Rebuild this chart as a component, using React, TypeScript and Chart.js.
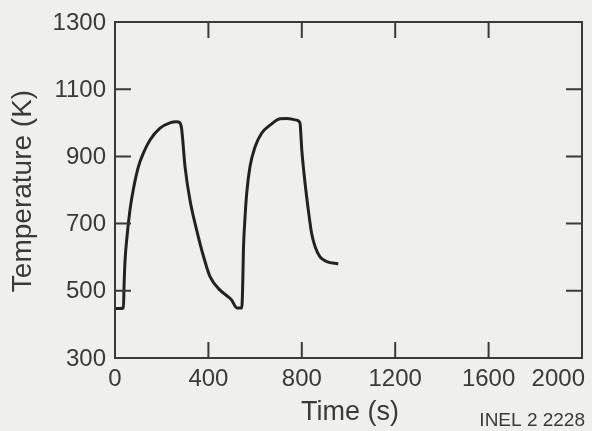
import React, { useEffect, useRef } from "react";
import { Chart, registerables } from "chart.js";

Chart.register(...registerables);

const timeSeconds = [0, 20, 36, 39, 43, 50, 64, 78, 100, 121, 150, 193, 235, 264, 278, 285, 300, 321, 350, 378, 407, 450, 485, 500, 508, 521, 543, 547, 550, 557, 564, 578, 600, 628, 664, 707, 735, 778, 792, 800, 814, 828, 842, 857, 878, 907, 956];
const temperatureK = [447, 447, 449, 520, 590, 651, 740, 800, 869, 909, 949, 984, 1000, 1003, 1000, 984, 869, 770, 680, 605, 542, 502, 482, 472, 462, 449, 449, 520, 621, 720, 790, 869, 929, 969, 993, 1012, 1013, 1008, 1000, 919, 820, 740, 671, 631, 601, 587, 580];

const xTickValues = [0, 400, 800, 1200, 1600, 2000];
const yTickValues = [300, 500, 700, 900, 1100, 1300];
const xTitle = "Time (s)";
const yTitle = "Temperature (K)";
const figureId = "INEL 2 2228";

const INK = "#3a3a3a";
const FONT = "'Liberation Sans', Arial, sans-serif";

const framePlugin = {
  id: "framePlugin",
  afterDraw(chart: any) {
    const { ctx, chartArea: a, scales } = chart;
    const xs = scales.x;
    const ys = scales.y;
    ctx.save();
    ctx.strokeStyle = INK;
    ctx.lineWidth = 2;
    ctx.strokeRect(a.left, a.top, a.right - a.left, a.bottom - a.top);
    const tl = 16;
    ctx.beginPath();
    xTickValues.slice(1, -1).forEach((v) => {
      const px = xs.getPixelForValue(v);
      ctx.moveTo(px, a.bottom);
      ctx.lineTo(px, a.bottom - tl);
      ctx.moveTo(px, a.top);
      ctx.lineTo(px, a.top + tl);
    });
    yTickValues.slice(1, -1).forEach((v) => {
      const py = ys.getPixelForValue(v);
      ctx.moveTo(a.left, py);
      ctx.lineTo(a.left + tl, py);
      ctx.moveTo(a.right, py);
      ctx.lineTo(a.right - tl, py);
    });
    ctx.stroke();

    ctx.fillStyle = INK;
    ctx.font = `24px ${FONT}`;
    ctx.textBaseline = "middle";
    ctx.textAlign = "right";
    yTickValues.forEach((v) => {
      ctx.fillText(String(v), a.left - 9, ys.getPixelForValue(v) + 1);
    });
    ctx.textBaseline = "top";
    xTickValues.forEach((v, i) => {
      const px = xs.getPixelForValue(v);
      if (i === xTickValues.length - 1) {
        ctx.textAlign = "right";
        ctx.fillText(String(v), px + 3, a.bottom + 9);
      } else {
        ctx.textAlign = "center";
        ctx.fillText(String(v), px, a.bottom + 9);
      }
    });

    ctx.font = `27px ${FONT}`;
    ctx.textAlign = "center";
    ctx.textBaseline = "middle";
    ctx.fillText(xTitle, 350, 413);

    ctx.save();
    ctx.translate(23, 191);
    ctx.rotate(-Math.PI / 2);
    ctx.font = `28px ${FONT}`;
    ctx.fillText(yTitle, 0, 0);
    ctx.restore();

    ctx.font = `19px ${FONT}`;
    ctx.textAlign = "right";
    ctx.fillText(figureId, 585, 421);
    ctx.restore();
  },
};

export default function App() {
  const ref = useRef<HTMLCanvasElement | null>(null);
  useEffect(() => {
    if (!ref.current) return;
    const chart = new Chart(ref.current, {
      type: "line",
      data: {
        datasets: [
          {
            data: timeSeconds.map((t, i) => ({ x: t, y: temperatureK[i] })),
            borderColor: "#222",
            borderWidth: 3,
            pointRadius: 0,
            fill: false,
            cubicInterpolationMode: "monotone",
          },
        ],
      },
      options: {
        animation: false,
        responsive: false,
        maintainAspectRatio: false,
        layout: { padding: { left: 115, right: 10, top: 22, bottom: 73 } },
        plugins: { legend: { display: false }, tooltip: { enabled: false } },
        scales: {
          x: { type: "linear", min: 0, max: 2000, display: false },
          y: { type: "linear", min: 300, max: 1300, display: false },
        },
      },
      plugins: [framePlugin],
    });
    return () => chart.destroy();
  }, []);
  return (
    <div style={{ position: "absolute", left: 0, top: 0, width: 592, height: 431, background: "#efefed" }}>
      <canvas ref={ref} width={592} height={431} />
    </div>
  );
}
